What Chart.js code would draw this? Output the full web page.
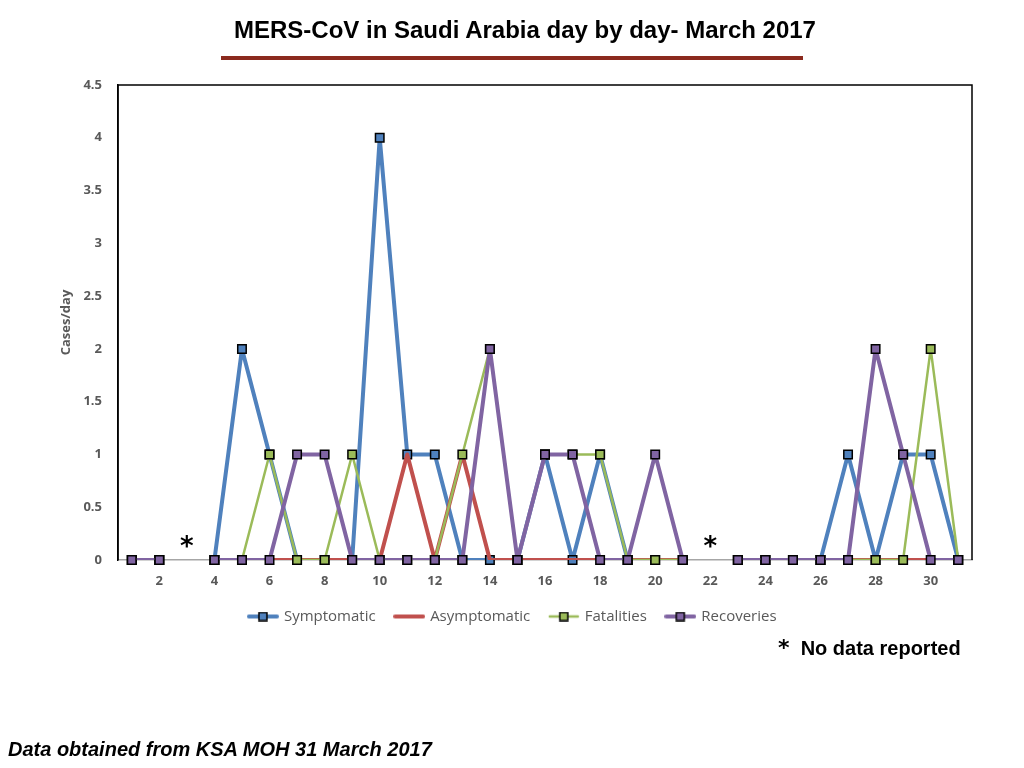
<!DOCTYPE html>
<html>
<head>
<meta charset="utf-8">
<script src="https://cdn.jsdelivr.net/npm/chart.js@4/dist/chart.umd.min.js"></script>
<style>
  body { margin: 0; background: #fff; }
  #wrap { position: relative; width: 1024px; height: 768px; overflow: hidden; }
  #chart { position: absolute; left: 0; top: 0; }
  .title { position: absolute; left: 0; width: 1050px; top: 16px; text-align: center;
    font: bold 24px "Liberation Sans", Arial, sans-serif; color: #000; }
  .rule { position: absolute; left: 221px; top: 56px; width: 582px; height: 4px; background: #8b2a1e; }
  .nodata { position: absolute; left: 778px; top: 635px; font: bold 20px "Liberation Sans", Arial, sans-serif; }
  .source { position: absolute; left: 8px; top: 738px; font: italic bold 20px "Liberation Sans", Arial, sans-serif; }
</style>
</head>
<body>
<div id="wrap">
  <canvas id="chart" width="1024" height="768"></canvas>
  <div class="title">MERS-CoV in Saudi Arabia day by day- March 2017</div>
  <div class="rule"></div>
  <div class="nodata"><span style="font-family:'DejaVu Sans';font-size:22px">*</span>&nbsp; No data reported</div>
  <div class="source">Data obtained from KSA MOH 31 March 2017</div>
</div>
<script>
// days of March 2017; null = no data reported
const days = ['1','2','3','4','5','6','7','8','9','10','11','12','13','14','15','16',
  '17','18','19','20','21','22','23','24','25','26','27','28','29','30','31'];
const symptomatic  = [0,0,null,0,2,1,0,0,0,4,1,1,0,0,0,1,0,1,0,0,0,null,0,0,0,0,1,0,1,1,0];
const asymptomatic = [0,0,null,0,0,0,0,0,0,0,1,0,1,0,0,0,0,0,0,0,0,null,0,0,0,0,0,0,0,0,0];
const fatalities   = [0,0,null,0,0,1,0,0,1,0,0,0,1,2,0,1,1,1,0,0,0,null,0,0,0,0,0,0,0,2,0];
const recoveries   = [0,0,null,0,0,0,1,1,0,0,0,0,0,2,0,1,1,0,0,1,0,null,0,0,0,0,0,2,1,0,0];
const yTicks = [0, 0.5, 1, 1.5, 2, 2.5, 3, 3.5, 4, 4.5];

const BLUE = '#4f81bd', RED = '#c0504d', GREEN = '#9bbb59', PURPLE = '#8064a2';
const GREY = '#595959';

function legendIcon(color, width, marker) {
  const c = document.createElement('canvas');
  c.width = 32; c.height = 10;
  const g = c.getContext('2d');
  g.strokeStyle = color; g.lineWidth = width; g.lineCap = 'round';
  g.beginPath(); g.moveTo(2, 5); g.lineTo(30, 5); g.stroke();
  if (marker) {
    g.fillStyle = color; g.fillRect(12, 1, 8, 8);
    g.strokeStyle = '#000'; g.lineWidth = 1.5; g.strokeRect(12, 1, 8, 8);
  }
  return c;
}

// each series = a line (clipped at the plot floor, like the original) + its markers on top
function series(label, data, color, width, marker, order) {
  const line = {
    label, data, order: order * 2 + 1,
    borderColor: color, backgroundColor: color, borderWidth: width,
    borderJoinStyle: 'round', borderCapStyle: 'round',
    pointRadius: 0, pointHoverRadius: 0, tension: 0, spanGaps: false,
    clip: { left: 10, top: 10, right: 10, bottom: 0 },
    legendIcon: legendIcon(color, width, marker)
  };
  const pts = {
    label: label + ' markers', data, order: order * 2, showLine: false,
    pointStyle: 'rect', pointRadius: marker ? 6 : 0, pointHoverRadius: marker ? 6 : 0,
    pointBorderColor: '#000', pointBorderWidth: 1.5, pointBackgroundColor: color,
    clip: false
  };
  return [line, pts];
}

// black frame on top/left/right, asterisks on days without data
const framePlugin = {
  id: 'frame',
  beforeDatasetsDraw(chart) {
    const { ctx, chartArea: a } = chart;
    ctx.save();
    ctx.strokeStyle = '#000'; ctx.lineWidth = 1.5;
    ctx.beginPath();
    ctx.moveTo(a.left, a.bottom); ctx.lineTo(a.left, a.top);
    ctx.lineTo(a.right, a.top); ctx.lineTo(a.right, a.bottom);
    ctx.stroke();
    ctx.restore();
  },
  afterDatasetsDraw(chart) {
    const { ctx } = chart;
    const x = chart.scales.x, y = chart.scales.y;
    ctx.save();
    ctx.fillStyle = '#000';
    ctx.font = 'bold 26px "DejaVu Sans"';
    ctx.textAlign = 'center'; ctx.textBaseline = 'middle';
    days.forEach((d, i) => {
      if (symptomatic[i] === null) ctx.fillText('*', x.getPixelForValue(i), y.getPixelForValue(0) - 12);
    });
    ctx.restore();
  }
};

new Chart(document.getElementById('chart'), {
  type: 'line',
  data: {
    labels: days,
    datasets: [
      ...series('Symptomatic', symptomatic, BLUE, 4, true, 3),
      ...series('Asymptomatic', asymptomatic, RED, 4, false, 2),
      ...series('Fatalities', fatalities, GREEN, 2.5, true, 1),
      ...series('Recoveries', recoveries, PURPLE, 4, true, 0)
    ]
  },
  options: {
    responsive: false,
    animation: false,
    layout: { padding: { left: 54, right: 52, top: 85, bottom: 134 } },
    plugins: {
      tooltip: { enabled: false },
      legend: {
        position: 'bottom',
        labels: {
          color: GREY,
          font: { family: '"Open Sans"', size: 15 },
          usePointStyle: true,
          pointStyleWidth: 27,
          boxHeight: 10,
          padding: 20,
          sort: (a, b) => a.datasetIndex - b.datasetIndex,
          generateLabels(chart) {
            return chart.data.datasets
              .map((ds, i) => ({ ds, i }))
              .filter(o => o.ds.legendIcon)
              .map(({ ds, i }) => ({
                text: ds.label, datasetIndex: i, pointStyle: ds.legendIcon,
                fontColor: GREY, lineWidth: 0, strokeStyle: 'transparent', fillStyle: 'transparent'
              }));
          }
        }
      }
    },
    scales: {
      x: {
        offset: true,
        grid: { display: false, drawTicks: false },
        border: { display: true, color: '#a6a6a6', width: 1.5 },
        ticks: {
          autoSkip: false, maxRotation: 0, padding: 13,
          color: GREY, font: { family: '"Open Sans"', size: 13, weight: 'bold' },
          callback: (v, i) => ((i + 1) % 2 === 0 ? days[i] : '')
        },
        afterFit(s) { s.height = 29; }
      },
      y: {
        min: 0, max: 4.5,
        grid: { display: false, drawTicks: false },
        border: { display: true, color: '#000', width: 1.5 },
        afterBuildTicks(s) { s.ticks = yTicks.map(v => ({ value: v })); },
        ticks: { padding: 16, color: GREY, font: { family: '"Open Sans"', size: 13, weight: 'bold' },
          callback: v => String(v) },
        title: { display: true, text: 'Cases/day', color: GREY, font: { family: '"Open Sans"', size: 13, weight: 'bold' } },
        afterFit(s) { s.width = 64; }
      }
    }
  },
  plugins: [framePlugin]
});
</script>
</body>
</html>
